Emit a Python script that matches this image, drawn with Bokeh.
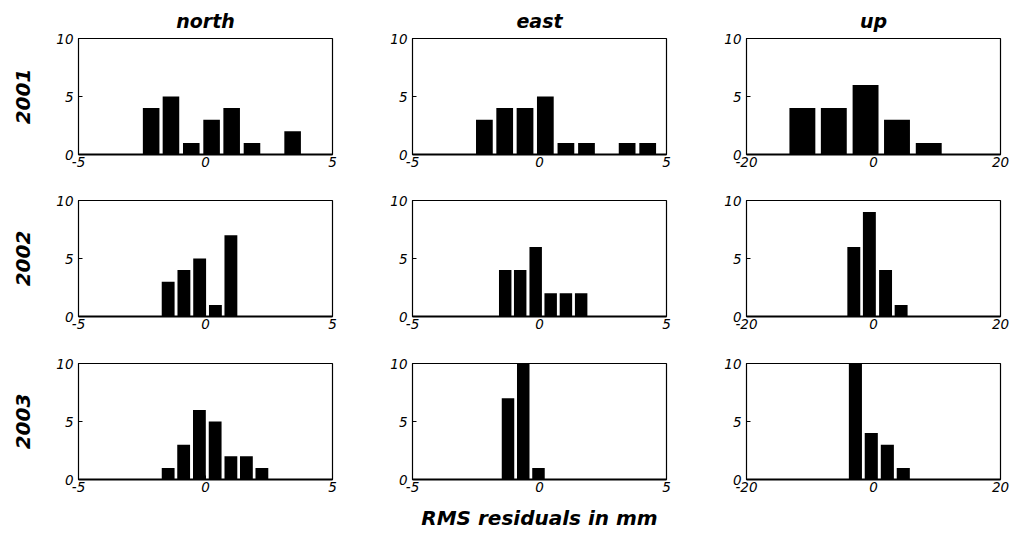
from bokeh.plotting import figure
from bokeh.layouts import column, row
from bokeh.models import FixedTicker, Range1d
from bokeh.embed import file_html
from bokeh.resources import INLINE
import numpy as np

components = ["north", "east", "up"]
years = ["2001", "2002", "2003"]
x_axis_label = "RMS residuals in mm"

x_limits = {"north": (-5, 5), "east": (-5, 5), "up": (-20, 20)}
x_tick_values = {"north": [-5, 0, 5], "east": [-5, 0, 5], "up": [-20, 0, 20]}
y_limits = (0, 10)
y_tick_values = [0, 5, 10]

# bin centres (mm) and counts
north_2001_centers = [-2.14, -1.36, -0.56, 0.24, 1.03, 1.83, 2.63, 3.43]
north_2001_counts = [4, 5, 1, 3, 4, 1, 0, 2]
east_2001_centers = [-2.17, -1.37, -0.57, 0.23, 1.04, 1.85, 2.65, 3.45, 4.26]
east_2001_counts = [3, 4, 4, 5, 1, 1, 0, 1, 1]
up_2001_centers = [-11.2, -6.25, -1.25, 3.7, 8.7]
up_2001_counts = [4, 4, 6, 3, 1]

north_2002_centers = [-1.47, -0.85, -0.23, 0.39, 1.0]
north_2002_counts = [3, 4, 5, 1, 7]
east_2002_centers = [-1.35, -0.76, -0.15, 0.44, 1.04, 1.64]
east_2002_counts = [4, 4, 6, 2, 2, 2]
up_2002_centers = [-3.1, -0.65, 1.9, 4.35]
up_2002_counts = [6, 9, 4, 1]

north_2003_centers = [-1.47, -0.86, -0.24, 0.38, 1.0, 1.61, 2.22]
north_2003_counts = [1, 3, 6, 5, 2, 2, 1]
east_2003_centers = [-1.24, -0.64, -0.04]
east_2003_counts = [7, 10, 1]
up_2003_centers = [-2.85, -0.35, 2.18, 4.69]
up_2003_counts = [10, 4, 3, 1]

data = {
    ("2001", "north"): (north_2001_centers, north_2001_counts),
    ("2001", "east"): (east_2001_centers, east_2001_counts),
    ("2001", "up"): (up_2001_centers, up_2001_counts),
    ("2002", "north"): (north_2002_centers, north_2002_counts),
    ("2002", "east"): (east_2002_centers, east_2002_counts),
    ("2002", "up"): (up_2002_centers, up_2002_counts),
    ("2003", "north"): (north_2003_centers, north_2003_counts),
    ("2003", "east"): (east_2003_centers, east_2003_counts),
    ("2003", "up"): (up_2003_centers, up_2003_counts),
}

FONT = "DejaVu Sans"
FRAME_W, FRAME_H = 254, 116
col_borders = [(78, 10), (70, 10), (70, 13)]
row_borders = [(38, 22), (24, 22), (25, 54)]


def fmt(ticks):
    return {t: str(t) for t in ticks}


rows = []
for ri, yr in enumerate(years):
    figs = []
    for ci, comp in enumerate(components):
        bl, br = col_borders[ci]
        bt, bb = row_borders[ri]
        kw = {}
        if ri == 0:
            kw["title"] = comp
        p = figure(width=bl + FRAME_W + br, height=bt + FRAME_H + bb,
                   x_range=Range1d(*x_limits[comp]), y_range=Range1d(*y_limits),
                   min_border_left=bl, min_border_right=br,
                   min_border_top=bt, min_border_bottom=bb,
                   output_backend="svg", toolbar_location=None, **kw)
        p.grid.visible = False
        p.outline_line_color = "black"
        p.outline_line_alpha = 1.0
        p.outline_line_width = 1.2
        p.background_fill_color = "white"
        p.border_fill_color = "white"

        centers, counts = data[(yr, comp)]
        step = float(np.mean(np.diff(centers)))
        p.vbar(x=centers, top=counts, bottom=0, width=0.82 * step,
               fill_color="black", line_color=None)

        xt = x_tick_values[comp]
        xax = p.xaxis[0]
        yax = p.yaxis[0]
        xax.ticker = FixedTicker(ticks=xt, minor_ticks=[])
        xax.major_label_overrides = fmt(xt)
        yax.ticker = FixedTicker(ticks=y_tick_values, minor_ticks=[])
        yax.major_label_overrides = fmt(y_tick_values)
        for ax in (xax, yax):
            ax.major_tick_in = 4
            ax.major_tick_out = 0
            ax.axis_line_color = "black"
            ax.major_tick_line_color = "black"
            ax.major_label_text_font = FONT
            ax.major_label_text_font_style = "italic"
            ax.major_label_text_font_size = "13.5px"
            ax.major_label_text_color = "black"
        xax.axis_line_width = 2
        xax.major_label_standoff = 2
        yax.major_label_standoff = 5

        if ri == 0:
            p.title.align = "center"
            p.title.text_font = FONT
            p.title.text_font_style = "bold italic"
            p.title.text_font_size = "19px"
            p.title.text_color = "black"
            p.title.standoff = 13
        if ci == 0:
            yax.axis_label = yr
            yax.axis_label_text_font = FONT
            yax.axis_label_text_font_style = "bold italic"
            yax.axis_label_text_font_size = "20px"
            yax.axis_label_text_color = "black"
            yax.axis_label_standoff = 23
        if ri == 2 and ci == 1:
            xax.axis_label = x_axis_label
            xax.axis_label_text_font = FONT
            xax.axis_label_text_font_style = "bold italic"
            xax.axis_label_text_font_size = "20px"
            xax.axis_label_text_color = "black"
            xax.axis_label_standoff = 11
        figs.append(p)
    rows.append(row(*figs, spacing=0))

layout = column(*rows, spacing=0)
open("out.html", "w").write(file_html(layout, INLINE))
